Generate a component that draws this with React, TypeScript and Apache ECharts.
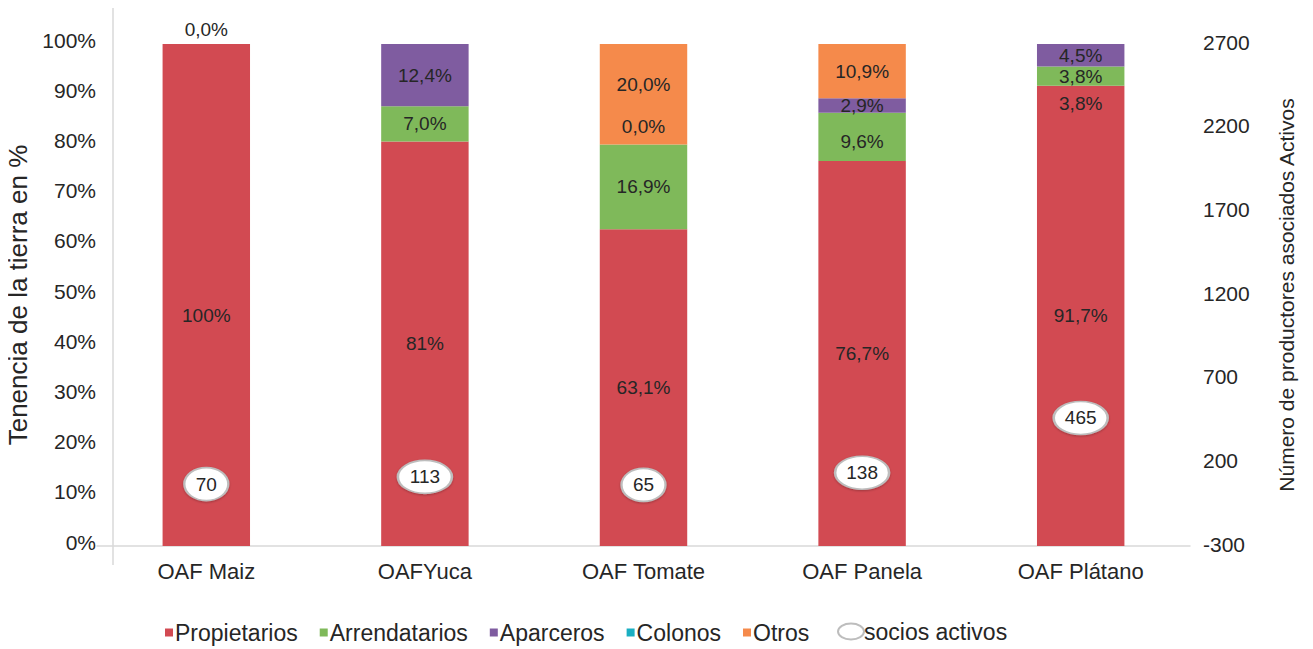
import React, { useEffect, useRef } from "react";
import * as echarts from "echarts";

const categories = ["OAF Maiz", "OAFYuca", "OAF Tomate", "OAF Panela", "OAF Plátano"];
const propietarios = [100, 80.6, 63.1, 76.7, 91.7];
const arrendatarios = [0, 7.0, 16.9, 9.6, 3.8];
const aparceros = [0, 12.4, 0, 2.9, 4.5];
const colonos = [0, 0, 0, 0, 0];
const otros = [0, 0, 20.0, 10.9, 0];
const sociosActivos = [70, 113, 65, 138, 465];

const propLabels = ["100%", "81%", "63,1%", "76,7%", "91,7%"];
const arrLabels = ["", "7,0%", "16,9%", "9,6%", "3,8%"];
const apaLabels = ["", "12,4%", "0,0%", "2,9%", "4,5%"];
const otrosLabels = ["0,0%", "", "20,0%", "10,9%", ""];
const platanoExtraLabel = "3,8%";

const rightTicks = [-300, 200, 700, 1200, 1700, 2200, 2700];

const FONT = "Liberation Sans";
const TXT = "#262626";
const ELLIPSE = "path://M0,1 C0,0.448 0.448,0 1,0 C1.552,0 2,0.448 2,1 C2,1.552 1.552,2 1,2 C0.448,2 0,1.552 0,1 Z";
const LEGEND_ELLIPSE =
  "path://M0,8 C0,3.58 5.82,0 13,0 C20.18,0 26,3.58 26,8 C26,12.42 20.18,16 13,16 C5.82,16 0,12.42 0,8 Z";

// label placement tweaks (style only)
const labelTweaks: Record<string, Record<number, any>> = {
  Propietarios: { 0: { offset: [0, 20] } },
  Arrendatarios: { 3: { offset: [0, 5] } },
  Aparceros: { 2: { offset: [0, -18] } },
  Otros: { 0: { position: "top" }, 2: { offset: [0, -10] } },
};

function buildData(name: string, values: number[], labels: string[]) {
  return values.map((v, i) => ({
    value: v,
    label: {
      show: !!labels[i],
      formatter: labels[i] || "",
      ...(labelTweaks[name] && labelTweaks[name][i] ? labelTweaks[name][i] : {}),
    },
  }));
}

export default function App() {
  const ref = useRef<HTMLDivElement>(null);
  useEffect(() => {
    if (!ref.current) return;
    const chart = echarts.init(ref.current, undefined, { renderer: "svg" });
    const barBase = (name: string, color: string, values: number[], labels: string[]) => ({
      name,
      type: "bar",
      stack: "t",
      barWidth: "40%",
      itemStyle: { color },
      label: {
        show: true,
        position: "inside",
        color: TXT,
        fontSize: 19,
        fontFamily: FONT,
      },
      data: buildData(name, values, labels),
    });
    const prop: any = barBase("Propietarios", "#D24A52", propietarios, propLabels);
    prop.markPoint = {
      symbol: "circle",
      symbolSize: 0,
      data: [
        {
          coord: [categories[4], propietarios[4]],
          label: {
            show: true,
            formatter: platanoExtraLabel,
            position: "inside",
            offset: [0, 18],
            color: TXT,
            fontSize: 19,
            fontFamily: FONT,
          },
        },
      ],
    };
    chart.setOption({
      animation: false,
      textStyle: { fontFamily: FONT },
      grid: { left: 97, right: 123, top: 44, bottom: 103, outerBoundsMode: "none" },
      xAxis: {
        type: "category",
        data: categories,
        axisLine: { show: true, lineStyle: { color: "#d9d9d9", width: 1.5 } },
        axisTick: { show: false },
        axisLabel: { color: TXT, fontSize: 22, fontFamily: FONT, margin: 14 },
      },
      yAxis: [
        {
          type: "value",
          min: 0,
          max: 100,
          interval: 10,
          splitLine: { show: false },
          axisLine: { show: false },
          axisTick: { show: false },
          axisLabel: {
            color: TXT,
            fontSize: 21,
            fontFamily: FONT,
            formatter: (v: number) => `{a|${v}%}`,
            margin: 1,
            rich: { a: { fontSize: 21, fontFamily: FONT, color: TXT, padding: [0, 0, 8, 0] } },
          },
          name: "Tenencia de la tierra en %",
          nameLocation: "middle",
          nameRotate: 90,
          nameGap: 62,
          nameTextStyle: { color: TXT, fontSize: 26, fontFamily: FONT },
        },
        {
          type: "value",
          min: -300,
          max: 2700,
          position: "right",
          splitLine: { show: false },
          axisLine: { show: false },
          axisTick: { show: false },
          axisLabel: {
            color: TXT,
            fontSize: 21,
            fontFamily: FONT,
            margin: 13,
            customValues: rightTicks,
            formatter: (v: number) => `{a|${v}}`,
            rich: { a: { fontSize: 21, fontFamily: FONT, color: TXT, padding: [0, 0, 4, 0] } },
          },
          name: "Número de productores asociados Activos",
          nameLocation: "middle",
          nameRotate: 90,
          nameGap: 86,
          nameTextStyle: { color: TXT, fontSize: 21, fontFamily: FONT },
        },
      ],
      legend: [
        {
          left: 160,
          bottom: 0,
          itemWidth: 8,
          itemHeight: 8,
          itemGap: 22,
          icon: "rect",
          textStyle: { color: TXT, fontSize: 23, fontFamily: FONT, padding: [0, 0, 0, -3] },
          data: ["Propietarios", "Arrendatarios", "Aparceros", "Colonos", "Otros"],
        },
        {
          left: 832,
          bottom: 1,
          itemWidth: 26,
          itemHeight: 16,
          textStyle: { color: TXT, fontSize: 23, fontFamily: FONT, padding: [0, 0, 0, -5] },
          data: [{ name: "socios activos", icon: LEGEND_ELLIPSE }],
        },
      ],
      graphic: [
        {
          type: "line",
          shape: { x1: 113, y1: 5, x2: 113, y2: 565 },
          style: { stroke: "#d9d9d9", lineWidth: 1.5 },
          silent: true,
        },
      ],
      series: [
        prop,
        barBase("Arrendatarios", "#7FB95A", arrendatarios, arrLabels),
        barBase("Aparceros", "#7F5CA0", aparceros, apaLabels),
        barBase("Colonos", "#1AAFC2", colonos, ["", "", "", "", ""]),
        barBase("Otros", "#F58A4B", otros, otrosLabels),
        {
          name: "socios activos",
          type: "scatter",
          yAxisIndex: 1,
          z: 5,
          symbol: ELLIPSE,
          symbolSize: (v: number) => [String(v).length * 10 + 24, 33],
          itemStyle: {
            color: "#ffffff",
            opacity: 1,
            borderColor: "#bdbdbd",
            borderWidth: 2,
            shadowColor: "rgba(0,0,0,0.25)",
            shadowBlur: 2,
            shadowOffsetY: 1,
          },
          label: {
            show: true,
            position: "inside",
            color: TXT,
            fontSize: 19,
            fontFamily: FONT,
          },
          data: sociosActivos,
        },
      ],
    });
    return () => chart.dispose();
  }, []);
  return <div ref={ref} style={{ width: 1313, height: 649, marginLeft: -8, marginTop: -8 }} />;
}
